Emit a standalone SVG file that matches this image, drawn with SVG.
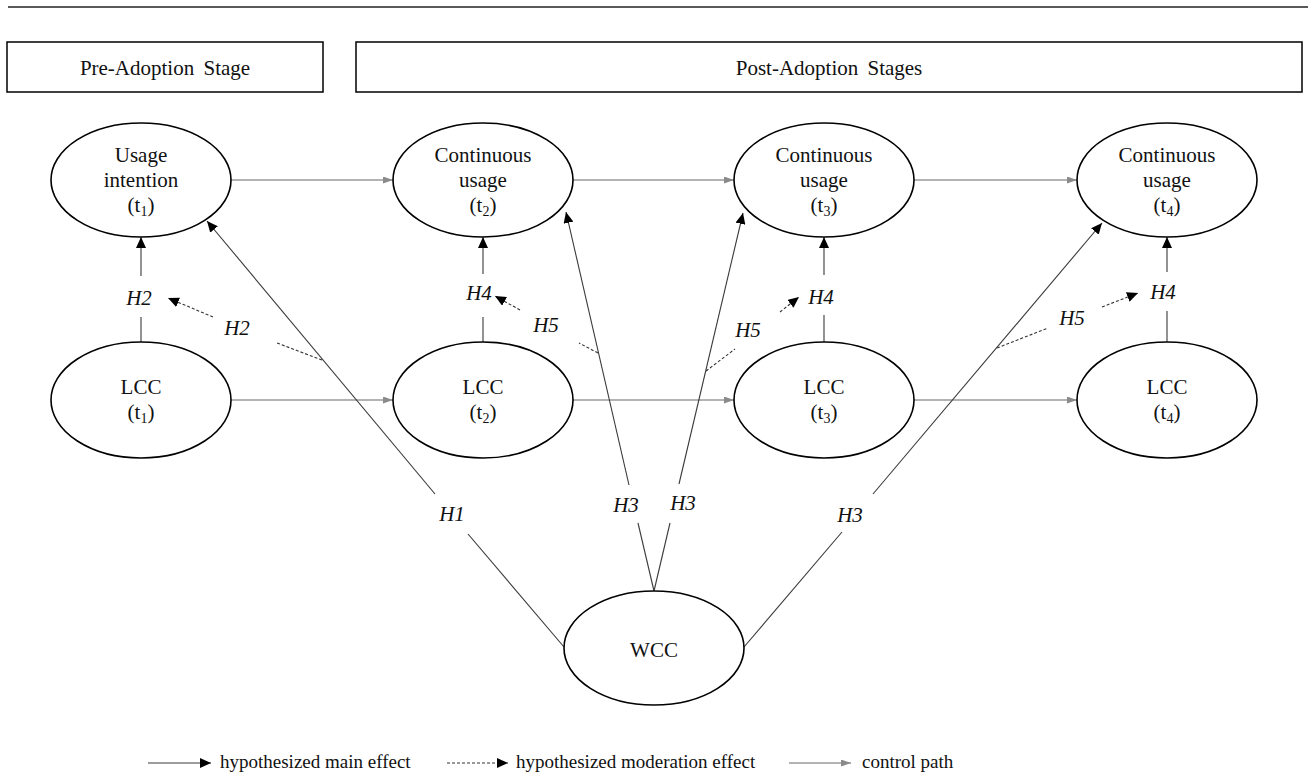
<svg xmlns="http://www.w3.org/2000/svg" width="1308" height="777" viewBox="0 0 1308 777">
<defs>
<style>
text{font-family:"Liberation Serif","Times New Roman",serif;fill:#111;}
.t{font-size:21px;text-anchor:middle;}
.h{font-size:21px;font-style:italic;text-anchor:middle;}
.lg{font-size:19px;}
.sub{font-size:14px;}
.node{fill:#fff;stroke:#000;stroke-width:1.6;}
.box{fill:#fff;stroke:#000;stroke-width:1.5;}
.main{stroke:#3a3a3a;stroke-width:1.1;fill:none;}
.mod{stroke:#333;stroke-width:1.1;stroke-dasharray:3 2;fill:none;}
.ctl{stroke:#9a9a9a;stroke-width:1.4;fill:none;}
</style>
<marker id="ab" viewBox="0 0 11 10" refX="11" refY="5" markerWidth="11" markerHeight="10" markerUnits="userSpaceOnUse" orient="auto"><path d="M0,0 L11,5 L0,10 z" fill="#000"/></marker>
<marker id="ag" viewBox="0 0 10 7" refX="10" refY="3.5" markerWidth="10" markerHeight="7" markerUnits="userSpaceOnUse" orient="auto"><path d="M0,0 L10,3.5 L0,7 z" fill="#8a8a8a"/></marker>
</defs>
<rect width="1308" height="777" fill="#fff"/>
<line x1="8" y1="7" x2="1308" y2="7" stroke="#222" stroke-width="1.5"/>
<g id="stage-pre">
<rect class="box" x="7" y="42" width="316" height="50"/>
<text class="t" x="165" y="75" word-spacing="4">Pre-Adoption Stage</text>
</g>
<g id="stage-post">
<rect class="box" x="356" y="42" width="946" height="50"/>
<text class="t" x="829" y="75" word-spacing="4">Post-Adoption Stages</text>
</g>
<g id="connectors">
<!-- control paths -->
<line class="ctl" x1="231" y1="180" x2="393" y2="180" marker-end="url(#ag)"/>
<line class="ctl" x1="573" y1="180" x2="734" y2="180" marker-end="url(#ag)"/>
<line class="ctl" x1="914" y1="180" x2="1077" y2="180" marker-end="url(#ag)"/>
<line class="ctl" x1="231" y1="400" x2="393" y2="400" marker-end="url(#ag)"/>
<line class="ctl" x1="573" y1="400" x2="734" y2="400" marker-end="url(#ag)"/>
<line class="ctl" x1="914" y1="400" x2="1077" y2="400" marker-end="url(#ag)"/>
<!-- vertical main effects -->
<line class="main" x1="141" y1="342" x2="141" y2="317"/>
<line class="main" x1="141" y1="276" x2="141" y2="237" marker-end="url(#ab)"/>
<line class="main" x1="483" y1="342" x2="483" y2="317"/>
<line class="main" x1="483" y1="274" x2="483" y2="237" marker-end="url(#ab)"/>
<line class="main" x1="824" y1="342" x2="824" y2="315"/>
<line class="main" x1="824" y1="275" x2="824" y2="237" marker-end="url(#ab)"/>
<line class="main" x1="1167" y1="342" x2="1167" y2="311"/>
<line class="main" x1="1167" y1="272" x2="1167" y2="237" marker-end="url(#ab)"/>
<!-- H1 -->
<line class="main" x1="564" y1="647" x2="468" y2="534"/>
<line class="main" x1="435" y1="494" x2="207" y2="221" marker-end="url(#ab)"/>
<!-- H3 left -->
<line class="main" x1="654" y1="591" x2="638" y2="523"/>
<line class="main" x1="629" y1="485" x2="566" y2="212" marker-end="url(#ab)"/>
<!-- H3 middle -->
<line class="main" x1="654" y1="591" x2="670" y2="523"/>
<line class="main" x1="679" y1="484" x2="743" y2="213" marker-end="url(#ab)"/>
<!-- H3 right -->
<line class="main" x1="744" y1="647" x2="842" y2="532"/>
<line class="main" x1="873" y1="494" x2="1102" y2="223" marker-end="url(#ab)"/>
<!-- moderation -->
<line class="mod" x1="322" y1="360" x2="277" y2="343"/>
<line class="mod" x1="213" y1="317" x2="168" y2="298" marker-end="url(#ab)"/>
<line class="mod" x1="598" y1="353" x2="579" y2="343"/>
<line class="mod" x1="520" y1="310" x2="495" y2="296" marker-end="url(#ab)"/>
<line class="mod" x1="706" y1="371" x2="735" y2="349"/>
<line class="mod" x1="780" y1="312" x2="799" y2="297" marker-end="url(#ab)"/>
<line class="mod" x1="997" y1="348" x2="1048" y2="328"/>
<line class="mod" x1="1102" y1="307" x2="1138" y2="293" marker-end="url(#ab)"/>
<!-- labels -->
<text class="h" x="139" y="305">H2</text>
<text class="h" x="237" y="335">H2</text>
<text class="h" x="479" y="300">H4</text>
<text class="h" x="546" y="332">H5</text>
<text class="h" x="821" y="304">H4</text>
<text class="h" x="748" y="337">H5</text>
<text class="h" x="1163" y="299">H4</text>
<text class="h" x="1072" y="325">H5</text>
<text class="h" x="452" y="521">H1</text>
<text class="h" x="626" y="512">H3</text>
<text class="h" x="683" y="510">H3</text>
<text class="h" x="850" y="522">H3</text>
</g>
<g id="usage-t1">
<ellipse class="node" cx="141" cy="180" rx="90" ry="57"/>
<text class="t" x="141" y="162">Usage</text>
<text class="t" x="141" y="187">intention</text>
<text class="t" x="141" y="212">(t<tspan class="sub" dy="4">1</tspan><tspan dy="-4">)</tspan></text>
</g>
<g id="usage-t2">
<ellipse class="node" cx="483" cy="180" rx="90" ry="57"/>
<text class="t" x="483" y="162">Continuous</text>
<text class="t" x="483" y="187">usage</text>
<text class="t" x="483" y="212">(t<tspan class="sub" dy="4">2</tspan><tspan dy="-4">)</tspan></text>
</g>
<g id="usage-t3">
<ellipse class="node" cx="824" cy="180" rx="90" ry="57"/>
<text class="t" x="824" y="162">Continuous</text>
<text class="t" x="824" y="187">usage</text>
<text class="t" x="824" y="212">(t<tspan class="sub" dy="4">3</tspan><tspan dy="-4">)</tspan></text>
</g>
<g id="usage-t4">
<ellipse class="node" cx="1167" cy="180" rx="90" ry="57"/>
<text class="t" x="1167" y="162">Continuous</text>
<text class="t" x="1167" y="187">usage</text>
<text class="t" x="1167" y="212">(t<tspan class="sub" dy="4">4</tspan><tspan dy="-4">)</tspan></text>
</g>
<g id="lcc-t1">
<ellipse class="node" cx="141" cy="400" rx="90" ry="58"/>
<text class="t" x="141" y="394">LCC</text>
<text class="t" x="141" y="419">(t<tspan class="sub" dy="4">1</tspan><tspan dy="-4">)</tspan></text>
</g>
<g id="lcc-t2">
<ellipse class="node" cx="483" cy="400" rx="90" ry="58"/>
<text class="t" x="483" y="394">LCC</text>
<text class="t" x="483" y="419">(t<tspan class="sub" dy="4">2</tspan><tspan dy="-4">)</tspan></text>
</g>
<g id="lcc-t3">
<ellipse class="node" cx="824" cy="400" rx="90" ry="58"/>
<text class="t" x="824" y="394">LCC</text>
<text class="t" x="824" y="419">(t<tspan class="sub" dy="4">3</tspan><tspan dy="-4">)</tspan></text>
</g>
<g id="lcc-t4">
<ellipse class="node" cx="1167" cy="400" rx="90" ry="58"/>
<text class="t" x="1167" y="394">LCC</text>
<text class="t" x="1167" y="419">(t<tspan class="sub" dy="4">4</tspan><tspan dy="-4">)</tspan></text>
</g>
<g id="wcc">
<ellipse class="node" cx="654" cy="648" rx="90" ry="57"/>
<text class="t" x="654" y="657">WCC</text>
</g>
<g id="legend">
<line class="main" x1="148" y1="763" x2="211" y2="763" marker-end="url(#ab)"/>
<text class="lg" x="220" y="768">hypothesized main effect</text>
<line class="mod" x1="447" y1="763" x2="508" y2="763" marker-end="url(#ab)"/>
<text class="lg" x="516" y="768">hypothesized moderation effect</text>
<line class="ctl" x1="789" y1="763" x2="851" y2="763" marker-end="url(#ag)"/>
<text class="lg" x="862" y="768">control path</text>
</g>
</svg>
